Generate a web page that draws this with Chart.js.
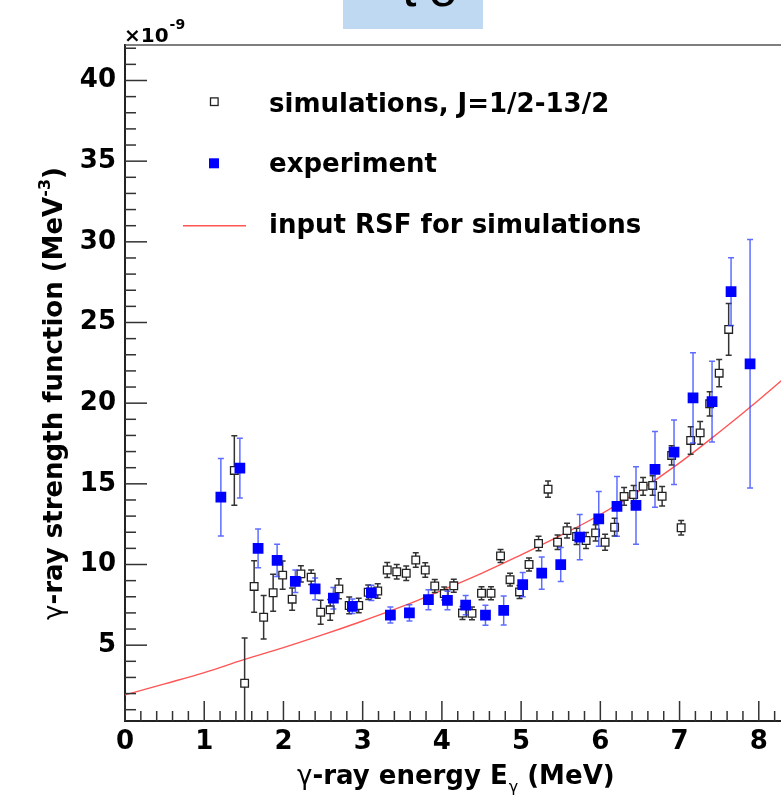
<!DOCTYPE html>
<html>
<head>
<meta charset="utf-8">
<script src="https://cdn.jsdelivr.net/npm/chart.js@4.4.0/dist/chart.umd.min.js"></script>
<style>
  html, body { margin: 0; padding: 0; background: #fff; overflow: hidden; }
  #wrap { position: relative; width: 781px; height: 800px; overflow: hidden; }
  #chart { position: absolute; left: 0; top: 0; }
  #tab { position: absolute; left: 343px; top: 0; width: 140px; height: 29px; background: #bfd9f2; overflow: hidden; }
  #tab span { position: absolute; left: 59px; top: -38px; font: 52px "Liberation Sans"; line-height: 1; letter-spacing: 12px; color: #000; }
</style>
</head>
<body>
<div id="wrap">
  <canvas id="chart" width="806" height="800"></canvas>
  <div id="tab"><span>to</span></div>
</div>
<script>
// simulations, J=1/2-13/2  (units of 1e-9 MeV^-3)
const simE = [1.38, 1.51, 1.63, 1.75, 1.87, 1.99, 2.11, 2.22, 2.35, 2.47, 2.59, 2.70, 2.83, 2.95,
              3.07, 3.19, 3.31, 3.43, 3.55, 3.67, 3.79, 3.91, 4.03, 4.15, 4.26, 4.38, 4.50, 4.62,
              4.74, 4.86, 4.98, 5.10, 5.22, 5.34, 5.46, 5.58, 5.70, 5.82, 5.94, 6.06, 6.18, 6.30,
              6.42, 6.54, 6.66, 6.78, 6.90, 7.02, 7.14, 7.26, 7.38, 7.50, 7.62];
const simS = [15.83, 2.64, 8.64, 6.73, 8.25, 9.34, 7.85, 9.42, 9.21, 7.04, 7.19, 8.49, 7.46, 7.46,
              8.28, 8.36, 9.66, 9.55, 9.46, 10.28, 9.66, 8.67, 8.20, 8.68, 6.99, 6.97, 8.22, 8.22,
              10.53, 9.06, 8.30, 10.00, 11.30, 14.67, 11.38, 12.10, 11.74, 11.49, 11.96, 11.38, 12.31, 14.22,
              14.34, 14.85, 14.90, 14.23, 16.76, 12.28, 17.69, 18.16, 19.96, 21.86, 24.57];
const simErr = [2.15, 2.8, 1.6, 1.35, 1.15, 0.88, 0.69, 0.5, 0.45, 0.75, 0.64, 0.62, 0.52, 0.45,
                0.45, 0.45, 0.47, 0.45, 0.45, 0.45, 0.45, 0.4, 0.4, 0.4, 0.4, 0.4, 0.4, 0.4,
                0.4, 0.4, 0.4, 0.4, 0.45, 0.5, 0.45, 0.45, 0.5, 0.5, 0.5, 0.5, 0.55, 0.55,
                0.55, 0.55, 0.6, 0.6, 0.6, 0.45, 0.85, 0.7, 0.75, 0.85, 1.6];

// experiment
const expE = [1.21, 1.45, 1.68, 1.92, 2.15, 2.40, 2.63, 2.87, 3.11, 3.35, 3.59, 3.83, 4.07, 4.30,
              4.55, 4.78, 5.02, 5.26, 5.50, 5.74, 5.98, 6.21, 6.45, 6.69, 6.93, 7.17, 7.41, 7.65, 7.89];
const expS = [14.17, 15.97, 11.0, 10.25, 8.96, 8.49, 7.91, 7.41, 8.24, 6.87, 7.0, 7.82, 7.77, 7.48,
              6.86, 7.15, 8.75, 9.47, 10.0, 11.7, 12.83, 13.6, 13.66, 15.9, 16.96, 20.33, 20.1, 26.92, 22.44];
const expErr = [2.4, 1.85, 1.2, 1.0, 0.7, 0.67, 0.67, 0.45, 0.47, 0.5, 0.5, 0.62, 0.57, 0.6,
                0.62, 0.9, 0.75, 1.0, 1.06, 1.4, 1.7, 1.85, 2.4, 2.35, 2.0, 2.8, 2.5, 2.1, 7.7];

// input RSF for simulations
const rsfE = [0, 0.5, 1.0, 1.5, 2.0, 2.5, 3.0, 3.5, 4.0, 4.5, 5.0, 5.5, 6.0, 6.5, 7.0, 7.5, 8.0, 8.5];
const rsfS = [1.92, 2.6, 3.3, 4.1, 4.85, 5.65, 6.5, 7.4, 8.4, 9.45, 10.6, 11.8, 13.1, 14.6, 16.3, 18.2, 20.2, 22.3];

const seriesNames = ['simulations, J=1/2-13/2', 'experiment', 'input RSF for simulations'];
const xTitle = ['\u03b3', '-ray energy E', '\u03b3', ' (MeV)'];
const yTitle = ['\u03b3', '-ray strength function (MeV', '-3', ')'];

const BOLD = 'bold 26px "DejaVu Sans"';
const GAMMA = '26px "DejaVu Sans"';

const pts = (xs, ys) => xs.map((x, i) => ({ x, y: ys[i] }));

const errorBars = {
  id: 'errorBars',
  beforeDatasetDraw(chart, args) {
    const ds = chart.data.datasets[args.index];
    if (!ds.errors) return;
    const { ctx, chartArea: a, scales: { x, y } } = chart;
    ctx.save();
    ctx.beginPath();
    ctx.rect(a.left, a.top, a.right - a.left, a.bottom - a.top);
    ctx.clip();
    ctx.strokeStyle = ds.errorColor;
    ctx.lineWidth = 1.5;
    ds.data.forEach((p, i) => {
      const px = x.getPixelForValue(p.x);
      const t = y.getPixelForValue(p.y + ds.errors[i]);
      const b = y.getPixelForValue(p.y - ds.errors[i]);
      ctx.beginPath();
      ctx.moveTo(px, t); ctx.lineTo(px, b);
      ctx.moveTo(px - 3, t); ctx.lineTo(px + 3, t);
      ctx.moveTo(px - 3, b); ctx.lineTo(px + 3, b);
      ctx.stroke();
    });
    ctx.restore();
  }
};

const frame = {
  id: 'frame',
  afterDatasetsDraw(chart) {
    const { ctx, chartArea: a, scales: { x, y } } = chart;
    const seg = (x1, y1, x2, y2) => { ctx.beginPath(); ctx.moveTo(x1, y1); ctx.lineTo(x2, y2); ctx.stroke(); };
    ctx.save();
    ctx.strokeStyle = '#333';
    ctx.lineWidth = 1.5;
    for (let i = 0; i * 0.2 <= x.max + 1e-9; i++) {
      const px = x.getPixelForValue(i * 0.2);
      seg(px, a.bottom, px, a.bottom - (i % 5 === 0 ? 20 : 10));
    }
    for (let v = Math.ceil(y.min); v <= y.max; v++) {
      const py = y.getPixelForValue(v);
      seg(a.left, py, a.left + (v % 5 === 0 ? 22 : 11), py);
    }
    ctx.strokeStyle = '#555';
    seg(a.left, a.top, a.right, a.top);
    ctx.restore();
  }
};

const decor = {
  id: 'decor',
  afterDraw(chart) {
    const { ctx } = chart;
    ctx.save();
    ctx.fillStyle = '#000';
    ctx.textBaseline = 'alphabetic';

    // exponent
    ctx.font = 'bold 20px "DejaVu Sans"';
    ctx.fillText('\u00d710', 124, 42);
    const w10 = ctx.measureText('\u00d710').width;
    ctx.font = 'bold 14px "DejaVu Sans"';
    ctx.fillText('-9', 124 + w10 + 1, 29);

    // x title
    let cx = 297;
    const bx = 784;
    ctx.font = GAMMA; ctx.fillText(xTitle[0], cx, bx); cx += ctx.measureText(xTitle[0]).width;
    ctx.font = BOLD; ctx.fillText(xTitle[1], cx, bx); cx += ctx.measureText(xTitle[1]).width;
    ctx.font = '16px "DejaVu Sans"'; ctx.fillText(xTitle[2], cx + 1, bx + 8); cx += ctx.measureText(xTitle[2]).width + 1;
    ctx.font = BOLD; ctx.fillText(xTitle[3], cx, bx);

    // y title
    ctx.save();
    ctx.translate(62, 620);
    ctx.rotate(-Math.PI / 2);
    let cy = 0;
    ctx.font = GAMMA; ctx.fillText(yTitle[0], cy, 0); cy += ctx.measureText(yTitle[0]).width;
    ctx.font = BOLD; ctx.fillText(yTitle[1], cy, 0); cy += ctx.measureText(yTitle[1]).width;
    ctx.font = 'bold 16px "DejaVu Sans"'; ctx.fillText(yTitle[2], cy, -12); cy += ctx.measureText(yTitle[2]).width;
    ctx.font = BOLD; ctx.fillText(yTitle[3], cy, 0);
    ctx.restore();

    // legend
    ctx.font = BOLD;
    ctx.fillText(seriesNames[0], 269, 111.7);
    ctx.fillText(seriesNames[1], 269, 171.7);
    ctx.fillText(seriesNames[2], 269, 233.3);
    ctx.fillStyle = '#fff';
    ctx.strokeStyle = '#222';
    ctx.lineWidth = 1.3;
    ctx.fillRect(210.5, 97.9, 7.6, 7.6);
    ctx.strokeRect(210.5, 97.9, 7.6, 7.6);
    ctx.fillStyle = '#0000ff';
    ctx.fillRect(209, 158.3, 10, 10);
    ctx.strokeStyle = '#ff5555';
    ctx.lineWidth = 1.4;
    ctx.beginPath(); ctx.moveTo(183, 225.7); ctx.lineTo(246, 225.7); ctx.stroke();
    ctx.restore();
  }
};

new Chart(document.getElementById('chart'), {
  type: 'scatter',
  data: {
    datasets: [
      {
        label: seriesNames[1],
        data: pts(expE, expS),
        errors: expErr,
        errorColor: 'rgba(40,60,255,0.75)',
        pointStyle: 'rect',
        pointRadius: 7.6,
        backgroundColor: '#0000ff',
        borderWidth: 0
      },
      {
        label: seriesNames[0],
        data: pts(simE, simS),
        errors: simErr,
        errorColor: '#333',
        pointStyle: 'rect',
        pointRadius: 5.4,
        backgroundColor: '#fff',
        borderColor: '#222',
        borderWidth: 1.3
      },
      {
        label: seriesNames[2],
        data: pts(rsfE, rsfS),
        showLine: true,
        pointRadius: 0,
        borderColor: '#ff5555',
        borderWidth: 1.4,
        tension: 0.4
      }
    ]
  },
  options: {
    responsive: false,
    devicePixelRatio: 1,
    animation: false,
    events: [],
    layout: { padding: { left: 0, top: 45, right: 0, bottom: 0 } },
    plugins: { legend: { display: false }, tooltip: { enabled: false } },
    scales: {
      x: {
        type: 'linear',
        min: 0,
        max: 8.5,
        grid: { display: false, drawTicks: false },
        border: { display: true, color: '#222', width: 2 },
        ticks: { stepSize: 1, includeBounds: false, maxRotation: 0, color: '#000',
                 font: { family: 'DejaVu Sans', weight: 'bold', size: 26 }, padding: 6 },
        afterFit(s) { s.height = 79; }
      },
      y: {
        type: 'linear',
        min: 0.3,
        max: 42.2,
        grid: { display: false, drawTicks: false },
        border: { display: true, color: '#222', width: 2 },
        ticks: { stepSize: 5, includeBounds: false, color: '#000',
                 font: { family: 'DejaVu Sans', weight: 'bold', size: 26 }, padding: 9 },
        afterFit(s) { s.width = 125; }
      }
    }
  },
  plugins: [errorBars, frame, decor]
});
</script>
</body>
</html>
